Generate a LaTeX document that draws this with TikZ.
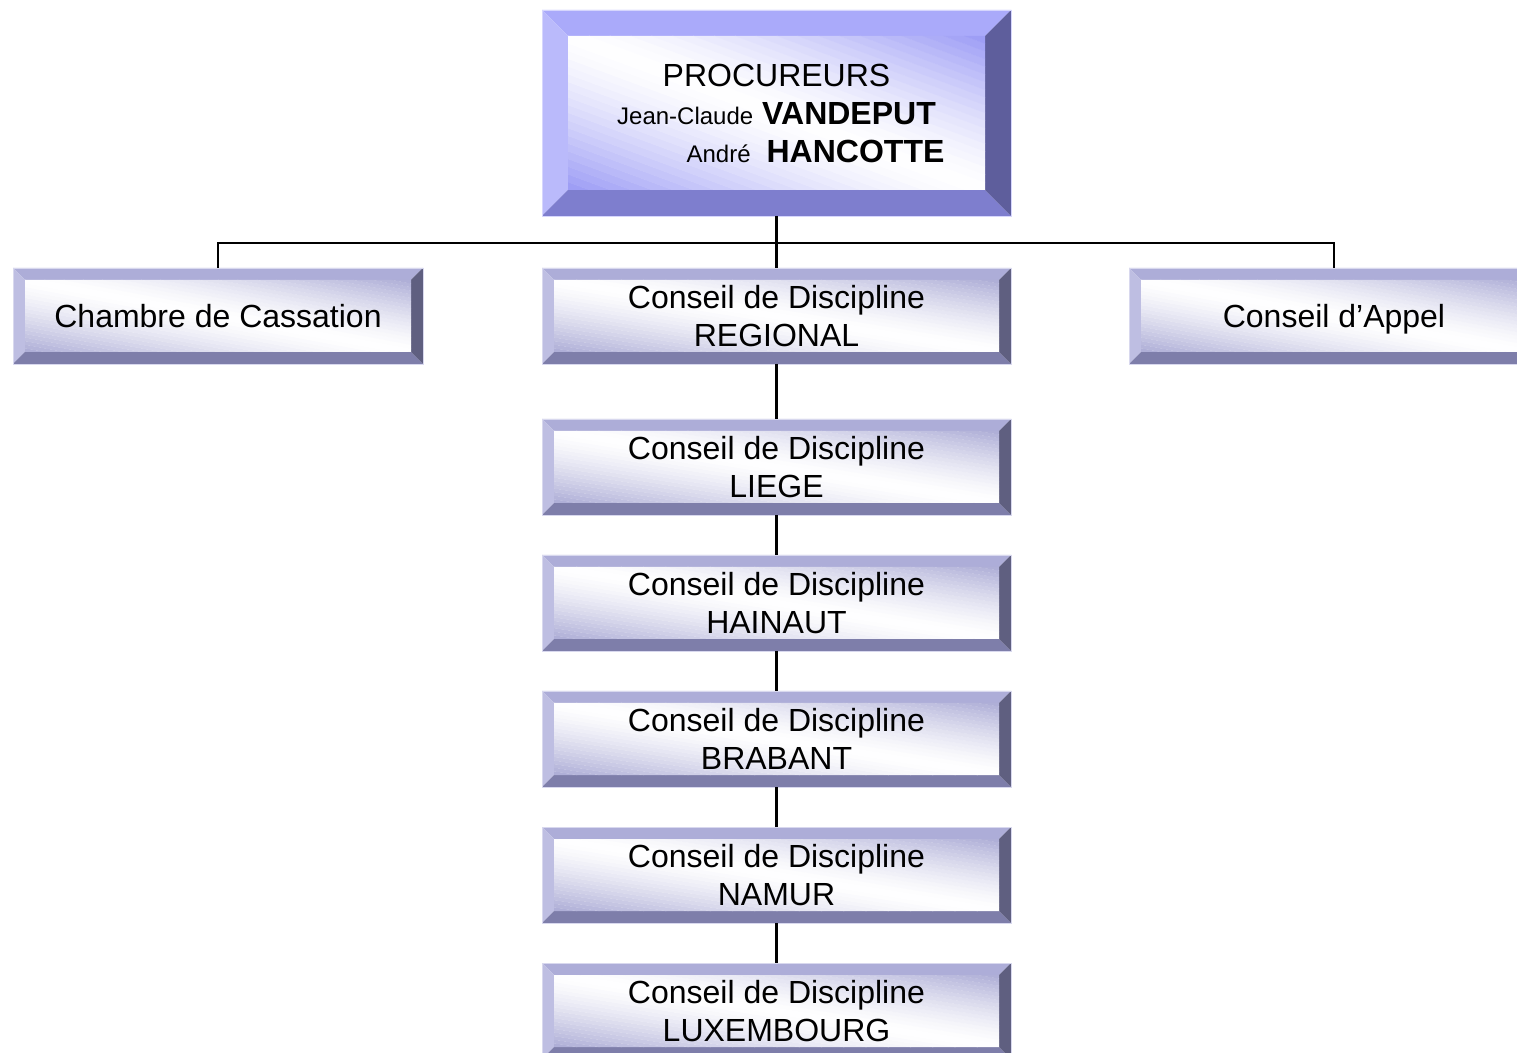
\documentclass[tikz,border=0pt]{standalone}
\usepackage{fontspec}
\setmainfont{Liberation Sans}
\usetikzlibrary{positioning}

\definecolor{bluetop}{RGB}{170,170,250}
\definecolor{blueleft}{RGB}{186,186,251}
\definecolor{bluebot}{RGB}{126,126,206}
\definecolor{blueright}{RGB}{94,94,156}
\definecolor{bluein}{RGB}{155,155,245}
\definecolor{greytop}{RGB}{173,173,216}
\definecolor{greyleft}{RGB}{190,190,226}
\definecolor{greybot}{RGB}{126,126,170}
\definecolor{greyright}{RGB}{95,95,128}
\definecolor{greyin}{RGB}{172,172,214}

% #1 name, #2 x, #3 y, #4 half width, #5 half height, #6 bevel, #7 palette, #8 text
\newcommand{\bevelbox}[8]{%
  \fill[#7top] ({#2-#4},{#3-#5}) -- ({#2+#4},{#3-#5}) -- ({#2+#4-#6},{#3-#5+#6}) -- ({#2-#4+#6},{#3-#5+#6}) -- cycle;
  \fill[#7left] ({#2-#4},{#3-#5}) -- ({#2-#4+#6},{#3-#5+#6}) -- ({#2-#4+#6},{#3+#5-#6}) -- ({#2-#4},{#3+#5}) -- cycle;
  \fill[#7bot] ({#2-#4},{#3+#5}) -- ({#2-#4+#6},{#3+#5-#6}) -- ({#2+#4-#6},{#3+#5-#6}) -- ({#2+#4},{#3+#5}) -- cycle;
  \fill[#7right] ({#2+#4},{#3-#5}) -- ({#2+#4},{#3+#5}) -- ({#2+#4-#6},{#3+#5-#6}) -- ({#2+#4-#6},{#3-#5+#6}) -- cycle;
  % inner face: bands from bottom left to top right
  \begin{scope}
    \clip ({#2-#4+#6},{#3-#5+#6}) rectangle ({#2+#4-#6},{#3+#5-#6});
    \foreach \i in {0,...,39}{
      \pgfmathsetmacro{\sa}{\i/40}
      \pgfmathsetmacro{\sb}{(\i+1.05)/40}
      \pgfmathsetmacro{\p}{100*abs(2*(\i+0.5)/40-1)^1.4}
      \fill[#7in!\p!white] ({#2-#4+#6+2*\sa*2*(#4-#6)},{#3+#5-#6}) -- ({#2-#4+#6+2*\sb*2*(#4-#6)},{#3+#5-#6})
        -- ({#2-#4+#6+(2*\sb-1)*2*(#4-#6)},{#3-#5+#6}) -- ({#2-#4+#6+(2*\sa-1)*2*(#4-#6)},{#3-#5+#6}) -- cycle;
    }
  \end{scope}
  \draw[#7left!60, line width=0.4pt] ({#2-#4},{#3-#5}) rectangle ({#2+#4},{#3+#5});
  \node[boxtext, minimum width=#4pt, minimum height=#5pt] (#1) at (#2,#3) {#8};
}

\begin{document}
\begin{tikzpicture}[x=0.5pt,y=0.5pt,yscale=-1,
  boxtext/.style={inner sep=0pt, outer sep=0pt, align=center, font=\fontsize{16}{19}\selectfont},
  link/.style={line width=1.1pt}]
\useasboundingbox (0,0) rectangle (1517,1053);
\clip (0,0) rectangle (1517,1053);

%Boxes
\bevelbox{proc}{776.5}{113}{234.5}{103}{26}{blue}{PROCUREURS\\
  {\fontsize{12}{19}\selectfont Jean-Claude} \textbf{VANDEPUT}\\
  \hspace*{39pt}{\fontsize{12}{19}\selectfont André}\hspace{8pt}\textbf{HANCOTTE}}
\bevelbox{cass}{218}{316}{205}{48}{12}{grey}{Chambre de Cassation}
\bevelbox{regio}{776.5}{316}{234.5}{48}{12}{grey}{Conseil de Discipline\\REGIONAL}
\bevelbox{appel}{1334}{316}{205}{48}{12}{grey}{\raisebox{0pt}[\height][0pt]{Conseil d’Appel}}
\bevelbox{liege}{776.5}{467}{234.5}{48}{12}{grey}{Conseil de Discipline\\LIEGE}
\bevelbox{hain}{776.5}{603}{234.5}{48}{12}{grey}{Conseil de Discipline\\HAINAUT}
\bevelbox{brab}{776.5}{739}{234.5}{48}{12}{grey}{Conseil de Discipline\\BRABANT}
\bevelbox{namur}{776.5}{875}{234.5}{48}{12}{grey}{Conseil de Discipline\\NAMUR}
\bevelbox{lux}{776.5}{1011}{234.5}{48}{12}{grey}{Conseil de Discipline\\LUXEMBOURG}

%Connectors
\coordinate (bus) at (777,243);
\draw[link] (proc.south) -- (regio.north);
\draw[link] (cass.north) |- (bus) -| (appel.north);
\draw[link] (regio.south) -- (liege.north);
\draw[link] (liege.south) -- (hain.north);
\draw[link] (hain.south) -- (brab.north);
\draw[link] (brab.south) -- (namur.north);
\draw[link] (namur.south) -- (lux.north);

\end{tikzpicture}
\end{document}
